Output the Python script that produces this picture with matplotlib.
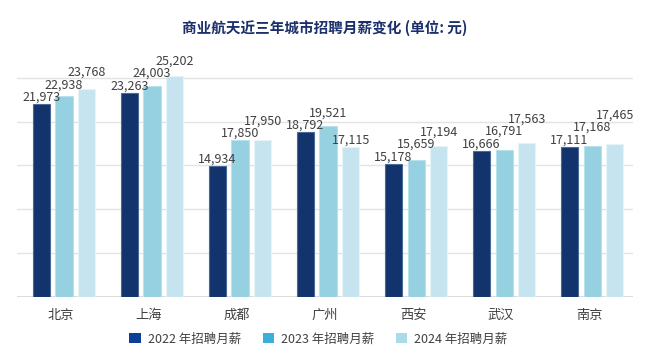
import matplotlib
matplotlib.use("Agg")
import matplotlib.pyplot as plt
import numpy as np
from matplotlib.patches import Patch

plt.rcParams['font.family'] = ['Noto Sans CJK SC', 'DejaVu Sans']

cities = ["北京", "上海", "成都", "广州", "西安", "武汉", "南京"]
series_names = ["2022 年招聘月薪", "2023 年招聘月薪", "2024 年招聘月薪"]
salary_2022 = [21973, 23263, 14934, 18792, 15178, 16666, 17111]
salary_2023 = [22938, 24003, 17850, 19521, 15659, 16791, 17168]
salary_2024 = [23768, 25202, 17950, 17115, 17194, 17563, 17465]

bar_colors = ["#12336b", "#96d1e1", "#c6e4ef"]
edge_colors = ["#4a6a9a", "#b8e2ee", "#e4f3f8"]
legend_colors = ["#0c3f96", "#3aafd9", "#a9dbe9"]
text_color = "#404040"

fig = plt.figure(figsize=(6.5, 3.6), dpi=100)
ax_rect = [0.026, 0.175, 0.948, 0.731]
ax = fig.add_axes(ax_rect)
ymax = 30000
ax.set_ylim(0, ymax)
ax_h_px = ax_rect[3] * 360
units_per_px = ymax / ax_h_px

x = np.arange(len(cities))
width = 0.195
stride = 0.258
all_series = [salary_2022, salary_2023, salary_2024]
label_pos = []
for i, vals in enumerate(all_series):
    pos = x + (i - 1) * stride + 0.035
    ax.bar(pos, vals, width=width, color=bar_colors[i],
           edgecolor=edge_colors[i], linewidth=0.8, zorder=3)
    label_pos.append(pos)

# stagger data labels upward only when they would collide with a neighbour
gap = 12.5 * units_per_px
eps = 1e-6
for j in range(len(cities)):
    placed = []
    for i, vals in enumerate(all_series):
        y = vals[j] + 7 * units_per_px
        for py in sorted(placed):
            if abs(y - py) < gap - eps:
                y = py + gap
        placed.append(y)
        ax.text(label_pos[i][j], y, f"{vals[j]:,}", ha="center", va="center",
                fontsize=9, color=text_color, zorder=4 + i)

ax.set_xlim(-0.5, len(cities) - 0.5)
ax.set_yticks([5000, 10000, 15000, 20000, 25000])
ax.yaxis.grid(True, color="#e3e3e3", linewidth=1.0, zorder=0)
ax.axhline(0, color="#d6d6d6", linewidth=1.2, zorder=2)
ax.tick_params(axis="y", left=False, labelleft=False)
ax.tick_params(axis="x", bottom=False, pad=5)
ax.set_xticks(x)
ax.set_xticklabels(cities, fontsize=9.5, color=text_color)
for s in ax.spines.values():
    s.set_visible(False)

fig.text(0.5, 0.922, "商业航天近三年城市招聘月薪变化 (单位: 元)",
         ha="center", va="center", fontsize=10.5, color="#1a2f6b",
         fontweight="bold")

handles = [Patch(facecolor=c, edgecolor="none") for c in legend_colors]
fig.legend(handles, series_names, loc="center", bbox_to_anchor=(0.49, 0.058),
           ncol=3, frameon=False, fontsize=9, handlelength=0.9,
           handleheight=0.9, handletextpad=0.6, columnspacing=1.7,
           labelcolor=text_color)

fig.savefig("out.png", dpi=100)
